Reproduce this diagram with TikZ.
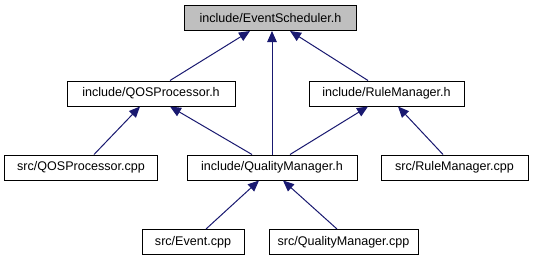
\documentclass[tikz,border=0pt]{standalone}
\usepackage{fontspec}
\setmainfont{Liberation Sans}
\usetikzlibrary{arrows.meta}
\definecolor{edgeblue}{HTML}{191970}
\definecolor{rootgray}{HTML}{BFBFBF}
\begin{document}
\begin{tikzpicture}[x=1bp,y=-1bp,
  filebox/.style={draw=black,line width=1bp,fill=white,minimum height=25bp,inner sep=0pt,
    font=\fontsize{12.6}{14}\selectfont},
  rootbox/.style={filebox,fill=rootgray},
  dep/.style={draw=edgeblue,line width=1bp,-{Triangle[length=11bp,width=9.5bp]}}]
\useasboundingbox (0,0) rectangle (533,261);
% header and its direct includers
\node[rootbox,minimum width=172bp] (es) at (270.5,18) {include/EventScheduler.h};
\node[filebox,minimum width=168bp] (qosh) at (151,93.5) {include/QOSProcessor.h};
\node[filebox,minimum width=155bp] (rmh) at (386.5,93.5) {include/RuleManager.h};
% second level
\node[filebox,minimum width=152bp] (qoscpp) at (81,167.5) {src/QOSProcessor.cpp};
\node[filebox,minimum width=170bp] (qmh) at (272,167.5) {include/QualityManager.h};
\node[filebox,minimum width=147bp] (rmcpp) at (454.5,167.5) {src/RuleManager.cpp};
% third level
\node[filebox,minimum width=102bp] (ev) at (193,242) {src/Event.cpp};
\node[filebox,minimum width=149bp] (qmcpp) at (343.5,242) {src/QualityManager.cpp};
% include edges
\draw[dep] ([xshift=19bp]qosh.north) -- ([xshift=-20.5bp]es.south);
\draw[dep] (qmh.north) -- (qmh.north |- es.south);
\draw[dep] ([xshift=-18.5bp]rmh.north) -- ([xshift=19.5bp]es.south);
\draw[dep] ([xshift=13bp]qoscpp.north) -- ([xshift=-11bp]qosh.south);
\draw[dep] ([xshift=-20bp]qmh.north) -- ([xshift=19bp]qosh.south);
\draw[dep] ([xshift=18bp]qmh.north) -- ([xshift=-18.5bp]rmh.south);
\draw[dep] ([xshift=-11.5bp]rmcpp.north) -- ([xshift=11.5bp]rmh.south);
\draw[dep] ([xshift=13bp]ev.north) -- ([xshift=-13bp]qmh.south);
\draw[dep] ([xshift=-6.5bp]qmcpp.north) -- ([xshift=11bp]qmh.south);
\end{tikzpicture}
\end{document}
